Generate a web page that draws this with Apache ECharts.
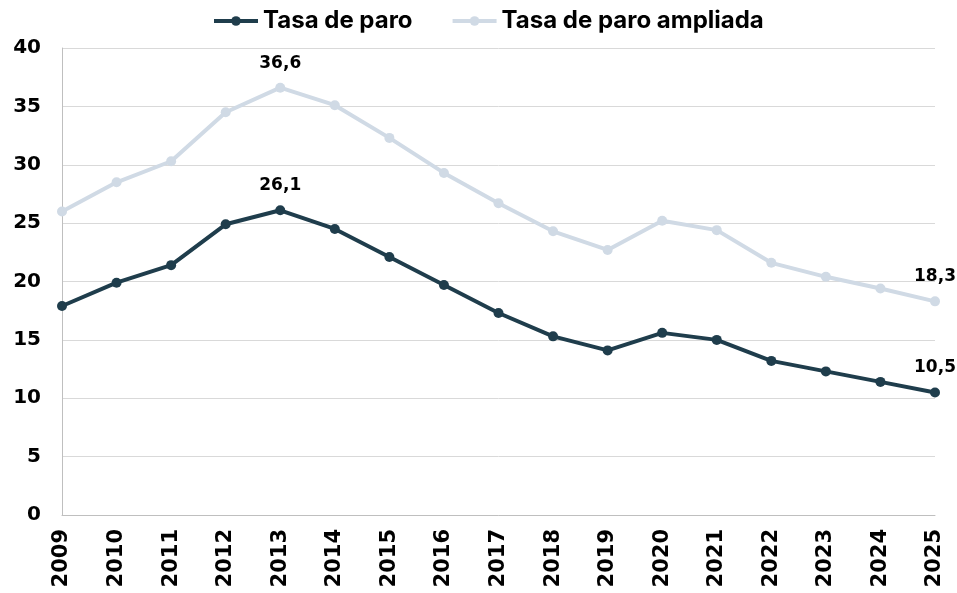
<!DOCTYPE html>
<html>
<head>
<meta charset="utf-8">
<script src="https://cdn.jsdelivr.net/npm/echarts@6/dist/echarts.min.js"></script>
<style>
  html, body { margin: 0; padding: 0; background: #fff; }
  #chart { width: 957px; height: 593px; }
</style>
</head>
<body>
<div id="chart"></div>
<script>
var years = ["2009", "2010", "2011", "2012", "2013", "2014", "2015", "2016", "2017",
  "2018", "2019", "2020", "2021", "2022", "2023", "2024", "2025"];
var tasaParo = [17.9, 19.9, 21.4, 24.9, 26.1, 24.5, 22.1, 19.7, 17.3, 15.3, 14.1, 15.6, 15.0, 13.2, 12.3, 11.4, 10.5];
var tasaAmpliada = [26.0, 28.5, 30.3, 34.5, 36.6, 35.1, 32.3, 29.3, 26.7, 24.3, 22.7, 25.2, 24.4, 21.6, 20.4, 19.4, 18.3];
var labeledYears = ["2013", "2025"];

var AXIS_FONT = "DejaVu Sans";
var LEGEND_FONT = "Inter";

// solo se rotulan algunos puntos
function withLabels(values) {
  return values.map(function (v, i) {
    var item = { value: v };
    if (labeledYears.indexOf(years[i]) >= 0) {
      item.label = {
        show: true,
        position: "top",
        distance: 11,
        formatter: function (p) { return String(p.value).replace(".", ","); }
      };
    }
    return item;
  });
}

var chart = echarts.init(document.getElementById("chart"));
chart.setOption({
  animation: false,
  legend: {
    top: 4,
    left: 207,
    itemWidth: 44,
    itemHeight: 12,
    itemGap: 38,
    lineStyle: { width: 4 },
    textStyle: { fontFamily: LEGEND_FONT, fontWeight: "bold", fontSize: 24, color: "#000" },
    data: ["Tasa de paro", "Tasa de paro ampliada"]
  },
  grid: { left: 62, right: 22, top: 48, bottom: 78 },
  xAxis: {
    type: "category",
    data: years,
    boundaryGap: false,
    axisLine: { lineStyle: { color: "#bfbfbf", width: 1 } },
    axisTick: { show: false },
    axisLabel: {
      rotate: 90,
      margin: 14,
      interval: 0,
      fontFamily: AXIS_FONT,
      fontWeight: "bold",
      fontSize: 21,
      color: "#000"
    },
    splitLine: { show: false }
  },
  yAxis: {
    type: "value",
    min: 0,
    max: 40,
    interval: 5,
    axisLine: { show: true, lineStyle: { color: "#bfbfbf", width: 1 } },
    axisTick: { show: false },
    axisLabel: {
      margin: 21,
      fontFamily: AXIS_FONT,
      fontWeight: "bold",
      fontSize: 20,
      color: "#000"
    },
    splitLine: { lineStyle: { color: "#d9d9d9", width: 1 } }
  },
  series: [
    {
      name: "Tasa de paro ampliada",
      type: "line",
      data: withLabels(tasaAmpliada),
      symbol: "circle",
      symbolSize: 10,
      lineStyle: { color: "#d0dae5", width: 4 },
      itemStyle: { color: "#d0dae5" },
      label: { fontFamily: AXIS_FONT, fontWeight: "bold", fontSize: 17, color: "#000" },
      z: 2
    },
    {
      name: "Tasa de paro",
      type: "line",
      data: withLabels(tasaParo),
      symbol: "circle",
      symbolSize: 10,
      lineStyle: { color: "#1f3d4c", width: 4 },
      itemStyle: { color: "#1f3d4c" },
      label: { fontFamily: AXIS_FONT, fontWeight: "bold", fontSize: 17, color: "#000" },
      z: 3
    }
  ]
});
</script>
</body>
</html>
